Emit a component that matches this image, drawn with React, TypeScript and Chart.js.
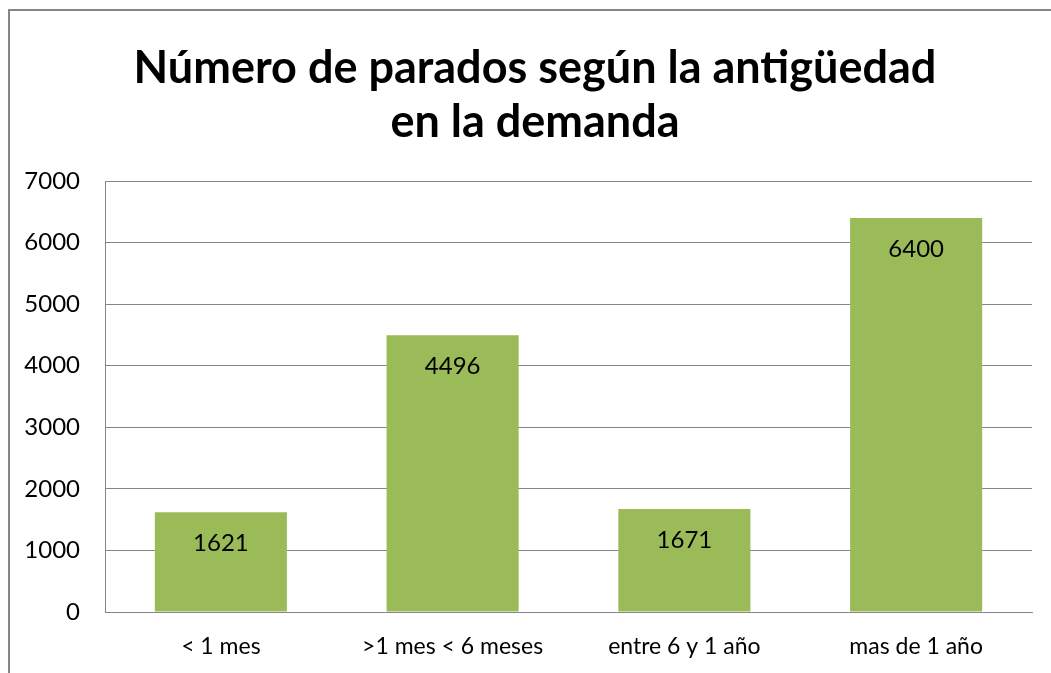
import React, { useEffect, useRef } from "react";
import { Chart, registerables } from "chart.js";

Chart.register(...registerables);

const categories = ["< 1 mes", ">1 mes < 6 meses", "entre 6 y 1 año", "mas de 1 año"];
const values = [1621, 4496, 1671, 6400];
const titleLines = ["Número de parados según la antigüedad", "en la demanda"];
const yMax = 7000;
const yStep = 1000;

const FONT = "Lato, 'Open Sans', sans-serif";
const GRAY = "#868686";
const GREEN = "#9BBB59";

const borderPlugin = {
  id: "outerBorder",
  beforeDraw(chart: any) {
    const ctx = chart.ctx;
    ctx.save();
    ctx.fillStyle = "#ffffff";
    ctx.fillRect(0, 0, chart.width, chart.height);
    ctx.strokeStyle = GRAY;
    ctx.lineWidth = 2;
    ctx.strokeRect(9, 10, chart.width + 20, chart.height + 20);
    ctx.restore();
  },
};

const titlePlugin = {
  id: "centeredTitle",
  afterDraw(chart: any) {
    const ctx = chart.ctx;
    ctx.save();
    ctx.fillStyle = "#000000";
    ctx.font = `bold 45px ${FONT}`;
    ctx.textAlign = "center";
    ctx.textBaseline = "middle";
    titleLines.forEach((line, i) => {
      ctx.fillText(line, 535, 68 + i * 54);
    });
    ctx.restore();
  },
};

const labelPlugin = {
  id: "barLabels",
  afterDatasetsDraw(chart: any) {
    const ctx = chart.ctx;
    const meta = chart.getDatasetMeta(0);
    ctx.save();
    ctx.fillStyle = "#000000";
    ctx.font = `24px ${FONT}`;
    ctx.textAlign = "center";
    ctx.textBaseline = "middle";
    meta.data.forEach((bar: any, i: number) => {
      ctx.fillText(String(values[i]), bar.x, bar.y + 31);
    });
    ctx.restore();
  },
};

export default function App() {
  const ref = useRef<HTMLCanvasElement | null>(null);
  useEffect(() => {
    if (!ref.current) return;
    const chart = new Chart(ref.current, {
      type: "bar",
      data: {
        labels: categories,
        datasets: [
          {
            data: values,
            backgroundColor: GREEN,
            borderWidth: 0,
            barPercentage: 0.57,
            categoryPercentage: 1,
          },
        ],
      },
      options: {
        animation: false,
        responsive: false,
        devicePixelRatio: 1,
        layout: { padding: { left: 8, right: 19, top: 181, bottom: 0 } },
        plugins: {
          legend: { display: false },
          tooltip: { enabled: false },
          title: { display: false },
        },
        scales: {
          x: {
            grid: { display: false, drawTicks: false },
            border: { display: true, color: GRAY, width: 1 },
            ticks: { color: "#000000", font: { family: FONT, size: 23 }, padding: 21, maxRotation: 0, autoSkip: false },
            afterFit(scale: any) {
              scale.height = 61;
            },
          },
          y: {
            min: 0,
            max: yMax,
            grid: { color: GRAY, drawTicks: false },
            border: { display: true, color: GRAY, width: 1 },
            ticks: {
              stepSize: yStep,
              color: "#000000",
              font: { family: FONT, size: 24 },
              padding: 25,
              callback: (v: any) => String(v),
            },
            afterFit(scale: any) {
              scale.width = 97;
            },
          },
        },
      },
      plugins: [borderPlugin, titlePlugin, labelPlugin],
    });
    return () => chart.destroy();
  }, []);
  return (
    <div style={{ position: "fixed", left: 0, top: 0, width: 1051, height: 673, overflow: "hidden", background: "#fff" }}>
      <canvas ref={ref} width={1051} height={673} style={{ display: "block", width: 1051, height: 673 }} />
    </div>
  );
}
